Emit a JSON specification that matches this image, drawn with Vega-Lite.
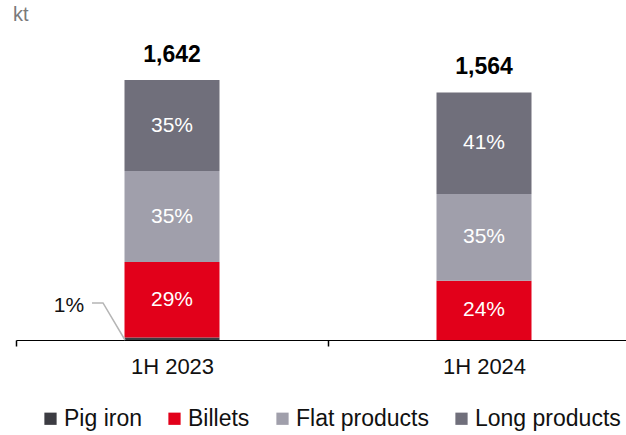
{
  "$schema": "https://vega.github.io/schema/vega-lite/v6.json",
  "width": 610,
  "height": 310,
  "autosize": {"type": "none"},
  "padding": {"left": 16, "top": 30, "right": 0, "bottom": 95},
  "background": "white",
  "config": {
    "view": {"stroke": null},
    "font": "Liberation Sans",
    "text": {"font": "Liberation Sans"}
  },
  "title": {"text": "kt", "anchor": "start", "frame": "group", "fontSize": 20, "fontWeight": "normal", "color": "#7a7a7a", "font": "Liberation Sans", "offset": 5, "dx": -3},
  "datasets": {
    "main": [
      {"period": "1H 2023", "series": "Pig iron", "idx": 1, "value": 16, "label": "1%"},
      {"period": "1H 2023", "series": "Billets", "idx": 2, "value": 476, "label": "29%"},
      {"period": "1H 2023", "series": "Flat products", "idx": 3, "value": 575, "label": "35%"},
      {"period": "1H 2023", "series": "Long products", "idx": 4, "value": 575, "label": "35%"},
      {"period": "1H 2024", "series": "Billets", "idx": 2, "value": 375, "label": "24%"},
      {"period": "1H 2024", "series": "Flat products", "idx": 3, "value": 547, "label": "35%"},
      {"period": "1H 2024", "series": "Long products", "idx": 4, "value": 642, "label": "41%"}
    ],
    "totals": [
      {"period": "1H 2023", "total": 1642},
      {"period": "1H 2024", "total": 1564}
    ],
    "leader": [
      {"period": "1H 2023", "off": 76, "y": 234, "seq": 1},
      {"period": "1H 2023", "off": 87, "y": 234, "seq": 2},
      {"period": "1H 2023", "off": 109, "y": 0, "seq": 3}
    ],
    "note": [
      {"period": "1H 2023", "off": 53, "y": 214, "label": "1%"}
    ]
  },
  "encoding": {
    "x": {
      "field": "period",
      "type": "nominal",
      "sort": ["1H 2023", "1H 2024"],
      "scale": {"range": [0, 624], "paddingInner": 0, "paddingOuter": 0},
      "axis": {
        "title": null,
        "labelAngle": 0,
        "labelFontSize": 22,
        "labelColor": "#111",
        "labelFont": "Liberation Sans",
        "labelPadding": 10,
        "domainColor": "#000",
        "domainWidth": 1.2,
        "tickColor": "#000",
        "tickWidth": 1.5,
        "tickSize": 6,
        "tickBand": "extent",
        "grid": false
      }
    }
  },
  "layer": [
    {
      "data": {"name": "main"},
      "transform": [
        {"stack": "value", "groupby": ["period"], "sort": [{"field": "idx", "order": "ascending"}], "as": ["v0", "v1"]}
      ],
      "mark": {"type": "bar", "width": 95},
      "encoding": {
        "y": {"field": "v1", "type": "quantitative", "scale": {"domain": [0, 1958], "nice": false, "zero": true}, "axis": null},
        "y2": {"field": "v0"},
        "color": {
          "field": "series",
          "type": "nominal",
          "scale": {
            "domain": ["Pig iron", "Billets", "Flat products", "Long products"],
            "range": ["#3c3c42", "#e2001a", "#a09fab", "#706f7b"]
          },
          "legend": {
            "title": null,
            "orient": "none",
            "legendX": 23,
            "legendY": 377,
            "direction": "horizontal",
            "symbolType": "square",
            "symbolSize": 150,
            "symbolStrokeWidth": 0,
            "labelFontSize": 23,
            "labelFont": "Liberation Sans",
            "labelColor": "#111",
            "labelOffset": 2,
            "columnPadding": 21,
            "padding": 0
          }
        }
      }
    },
    {
      "data": {"name": "main"},
      "transform": [
        {"stack": "value", "groupby": ["period"], "sort": [{"field": "idx", "order": "ascending"}], "as": ["v0", "v1"]},
        {"filter": "datum.idx > 1"},
        {"calculate": "(datum.v0 + datum.v1) / 2", "as": "mid"}
      ],
      "mark": {"type": "text", "fontSize": 21, "color": "white", "baseline": "middle", "align": "center"},
      "encoding": {
        "y": {"field": "mid", "type": "quantitative"},
        "text": {"field": "label"}
      }
    },
    {
      "data": {"name": "totals"},
      "mark": {"type": "text", "fontSize": 23, "fontWeight": "bold", "color": "#000", "baseline": "middle", "align": "center", "dy": -25},
      "encoding": {
        "y": {"field": "total", "type": "quantitative"},
        "text": {"field": "total", "format": ","}
      }
    },
    {
      "data": {"name": "leader"},
      "mark": {"type": "line", "color": "#b5b5b5", "strokeWidth": 1.5},
      "encoding": {
        "xOffset": {"field": "off", "type": "quantitative", "scale": {"domain": [0, 312], "range": [0, 312]}},
        "y": {"field": "y", "type": "quantitative"},
        "order": {"field": "seq"}
      }
    },
    {
      "data": {"name": "note"},
      "mark": {"type": "text", "fontSize": 21, "color": "#111", "baseline": "middle", "align": "center"},
      "encoding": {
        "xOffset": {"field": "off", "type": "quantitative", "scale": {"domain": [0, 312], "range": [0, 312]}},
        "y": {"field": "y", "type": "quantitative"},
        "text": {"field": "label"}
      }
    }
  ]
}
